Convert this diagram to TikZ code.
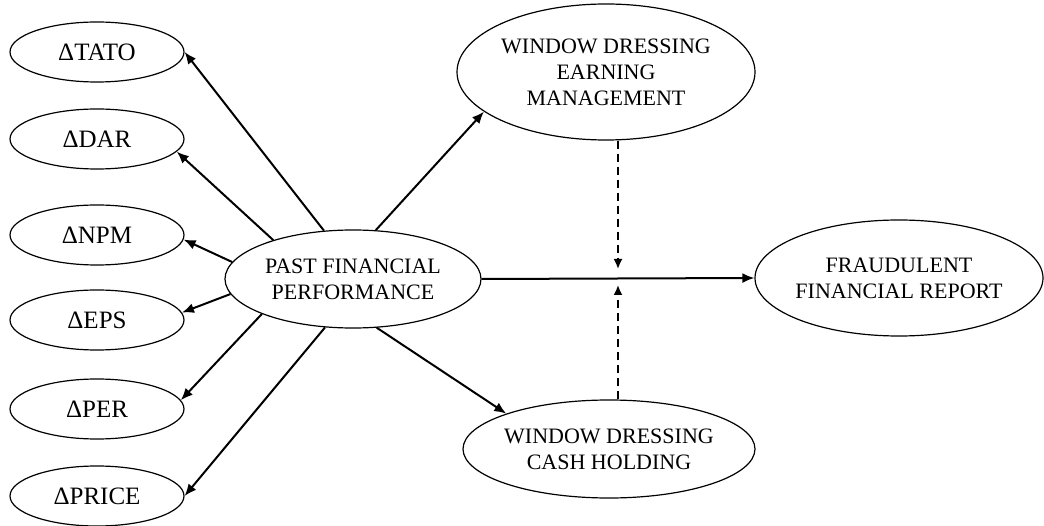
\documentclass[tikz,border=0pt]{standalone}
\usepackage{fontspec}
\setmainfont{Liberation Serif}
\usetikzlibrary{arrows.meta,shapes.geometric}
\begin{document}
\begin{tikzpicture}[x=1pt,y=-1pt,
  ell/.style={ellipse,draw,line width=1.2pt,inner sep=0pt},
  small/.style={ell,minimum width=174pt,minimum height=60pt,font=\fontsize{25}{29}\selectfont},
  lbl/.style={align=center,font=\fontsize{22}{26}\selectfont,inner sep=0pt},
  arr/.style={line width=2pt,-{Latex[length=12pt,width=10pt]}},
  darr/.style={line width=1.8pt,dash pattern=on 8pt off 5pt,-{Latex[length=10pt,width=9pt]}}]
\useasboundingbox (0,0) rectangle (1044,526);

% left ellipses
\node[small] (tato)  at (97,52)  {ΔTATO};
\node[small] (dar)   at (97,139) {ΔDAR};
\node[small] (npm)   at (97,235) {ΔNPM};
\node[small] (eps)   at (97,320) {ΔEPS};
\node[small] (per)   at (97,409) {ΔPER};
\node[small] (price) at (97,496) {ΔPRICE};

% main ellipses
\node[ell,minimum width=256pt,minimum height=98pt] (past) at (353,279) {};
\node[lbl] (pastt) at (past) {PAST FINANCIAL\\PERFORMANCE};

\node[ell,minimum width=298pt,minimum height=136pt] (wdem) at (606,72) {};
\node[lbl] (wdemt) at (wdem) {WINDOW DRESSING\\EARNING\\MANAGEMENT};

\node[ell,minimum width=292pt,minimum height=98pt] (wdch) at (609,449) {};
\node[lbl] (wdcht) at (wdch) {WINDOW DRESSING\\CASH HOLDING};

\node[ell,minimum width=288pt,minimum height=116pt] (frd) at (899,278) {};
\node[lbl] (frdt) at (frd) {FRAUDULENT\\FINANCIAL REPORT};

% arrows to the left
\draw[arr] (past.121) -- (tato.0);
\draw[arr] (past.154) -- (dar.-9);
\draw[arr] (past.172) -- (npm.-3);
\draw[arr] (past.187) -- (eps.5);
\draw[arr] (past.201) -- (per.6);
\draw[arr] (past.240) -- (price.0);

% arrows to the right
\draw[arr] (past.65) -- (wdem.198);
\draw[arr] (past.-64) -- (wdch.161);
\draw[arr] (past.east) -- (frd.west);

% moderating dashed arrows
\coordinate (j) at (618,278);
\coordinate (jt) at (618,269);
\coordinate (jb) at (618,285);
\draw[darr] (wdem.south -| j) -- (jt);
\draw[darr] (wdch.north -| j) -- (jb);
\end{tikzpicture}
\end{document}
